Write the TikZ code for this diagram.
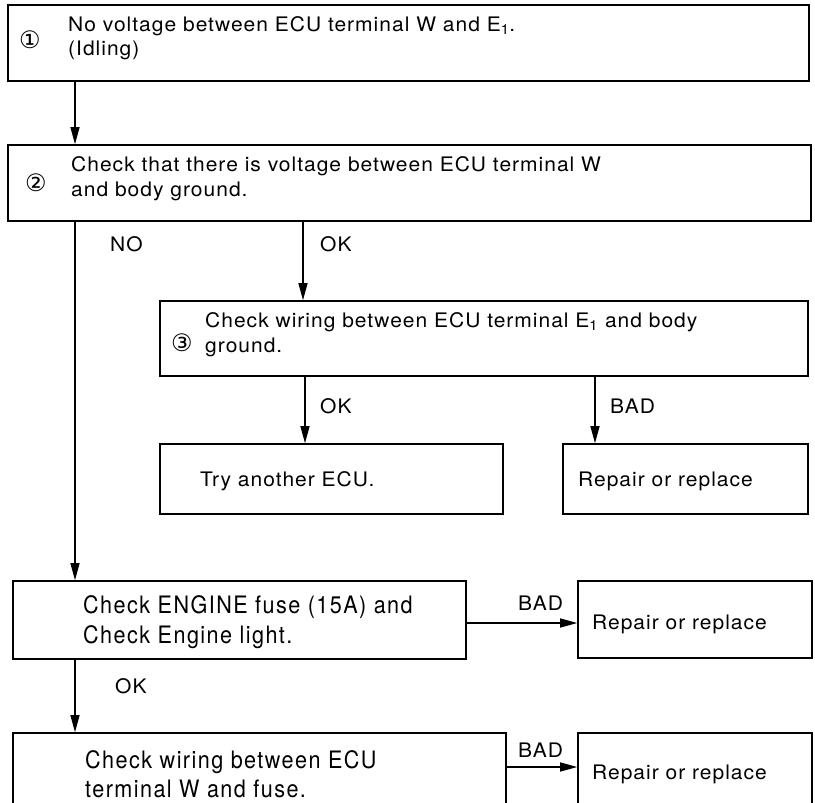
\documentclass[tikz,border=0pt]{standalone}
\usepackage{fontspec}
\setmainfont{TeX Gyre Heros}[FakeStretch=1.05, LetterSpace=5]
\newfontfamily\condfont{TeX Gyre Heros}[FakeStretch=0.9, LetterSpace=6]
\newfontfamily\circfont{DejaVu Sans}
\usetikzlibrary{arrows.meta}
\begin{document}
\begin{tikzpicture}[x=1pt,y=-1pt,
  box/.style={draw, line width=1.6pt, rectangle, inner sep=0pt},
  t/.style={anchor=base west, inner sep=0pt, font=\fontsize{20}{24}\selectfont},
  ct/.style={anchor=base west, inner sep=0pt, font=\condfont\fontsize{24}{30}\selectfont},
  num/.style={inner sep=0pt, font=\circfont\fontsize{24}{24}\selectfont},
  arr/.style={-{Triangle[length=17pt,width=9pt]}, line width=1.3pt}]
\useasboundingbox (0,0) rectangle (815,803);
% boxes
\node[box, minimum width=801pt, minimum height=76pt] (b1) at (408.5,43) {};
\node[box, minimum width=803pt, minimum height=76pt] (b2) at (409.5,183) {};
\node[box, minimum width=648pt, minimum height=75pt] (b3) at (484,338.5) {};
\node[box, minimum width=343pt, minimum height=70pt] (try) at (331.5,479) {};
\node[box, minimum width=245pt, minimum height=70pt] (r1) at (685.5,479) {};
\node[box, minimum width=453pt, minimum height=78pt] (b4) at (239.5,620) {};
\node[box, minimum width=234pt, minimum height=77pt] (r2) at (695,619.5) {};
\node[box, minimum width=493pt, minimum height=80pt] (b5) at (259.5,773) {};
\node[box, minimum width=234pt, minimum height=80pt] (r3) at (695,773) {};
% circled numbers
\node[num] (n1) at (30,40) {①};
\node[num] (n2) at (36,183) {②};
\node[num] (n3) at (182,343) {③};
% texts
\node[t] (t1a) at (68,31) {No voltage between ECU terminal W and E\textsubscript{1}.};
\node[t] (t1b) at (68,56) {(Idling)};
\node[t] (t2a) at (71,171) {Check that there is voltage between ECU terminal W};
\node[t] (t2b) at (71,196) {and body ground.};
\node[t] (t3a) at (205,327) {Check wiring between ECU terminal E\textsubscript{1} and body};
\node[t] (t3b) at (205,352) {ground.};
\node[t] (t4) at (200,486) {Try another ECU.};
\node[t] (t5) at (578,486) {Repair or replace};
\node[ct] (t6a) at (83,613) {Check ENGINE fuse (15A) and};
\node[ct] (t6b) at (83,643) {Check Engine light.};
\node[t] (t7) at (592,629) {Repair or replace};
\node[ct] (t8a) at (85,768) {Check wiring between ECU};
\node[ct] (t8b) at (85,797) {terminal W and fuse.};
\node[t] (t9) at (592,779) {Repair or replace};
% connectors
\coordinate (c1) at (75,0);
\draw[arr] (b1.south -| c1) -- (b2.north -| c1);
\draw[arr] (b2.south -| c1) -- (b4.north -| c1);
\coordinate (c2) at (303,0);
\draw[arr] (b2.south -| c2) -- (b3.north -| c2);
\coordinate (c3) at (305,0);
\draw[arr] (b3.south -| c3) -- (try.north -| c3);
\coordinate (c4) at (595,0);
\draw[arr] (b3.south -| c4) -- (r1.north -| c4);
\coordinate (c5) at (0,623);
\draw[arr] (b4.east |- c5) -- (r2.west |- c5);
\draw[arr] (b4.south -| c1) -- (b5.north -| c1);
\coordinate (c6) at (0,767);
\draw[arr] (b5.east |- c6) -- (r3.west |- c6);
% labels
\node[t] (l1) at (110,251) {NO};
\node[t] (l2) at (320,251) {OK};
\node[t] (l3) at (320,413) {OK};
\node[t] (l4) at (610,413) {BAD};
\node[t] (l5) at (518,610) {BAD};
\node[t] (l6) at (115,693) {OK};
\node[t] (l7) at (518,757) {BAD};
\end{tikzpicture}
\end{document}
